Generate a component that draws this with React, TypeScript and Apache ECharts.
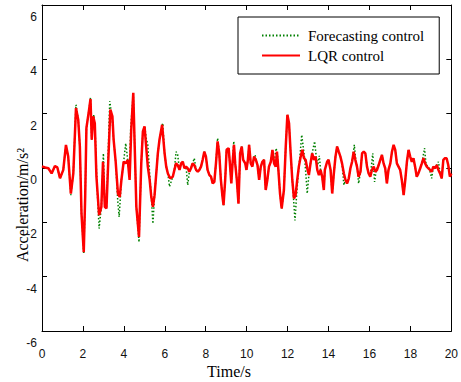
import React, { useEffect, useRef } from "react";
import * as echarts from "echarts";

// LQR control (red solid) — time (s) and acceleration (m/s^2)
const lqrTime = [
  0, 0.15, 0.31, 0.47, 0.63, 0.75, 0.88, 1.04, 1.17, 1.28, 1.41, 1.53, 1.66, 1.77, 1.85, 1.93, 2.04, 2.11, 2.17, 2.3,
  2.37, 2.43, 2.5, 2.58, 2.66, 2.79, 2.9, 2.98, 3.07, 3.15, 3.23, 3.34, 3.44, 3.5, 3.6, 3.71, 3.8, 3.88, 3.99, 4.09,
  4.19, 4.28, 4.36, 4.46, 4.53, 4.61, 4.74, 4.85, 4.93, 5.01, 5.09, 5.17, 5.26, 5.34, 5.42, 5.5, 5.66, 5.74, 5.87, 5.99,
  6.07, 6.15, 6.26, 6.39, 6.47, 6.55, 6.63, 6.72, 6.8, 6.88, 6.96, 7.04, 7.12, 7.2, 7.28, 7.36, 7.44, 7.53, 7.61, 7.69,
  7.77, 7.85, 7.93, 8.01, 8.09, 8.18, 8.26, 8.34, 8.42, 8.5, 8.58, 8.66, 8.74, 8.82, 8.87, 8.95, 9.02, 9.12, 9.18, 9.25,
  9.31, 9.38, 9.44, 9.52, 9.6, 9.68, 9.76, 9.83, 9.93, 9.99, 10.06, 10.12, 10.2, 10.28, 10.36, 10.45, 10.53, 10.61, 10.69, 10.77,
  10.85, 10.93, 11.01, 11.09, 11.18, 11.26, 11.34, 11.42, 11.48, 11.55, 11.63, 11.71, 11.82, 11.91, 11.99, 12.07, 12.15, 12.23, 12.31, 12.39,
  12.47, 12.55, 12.64, 12.72, 12.8, 12.88, 12.96, 13.04, 13.12, 13.2, 13.29, 13.37, 13.45, 13.53, 13.61, 13.69, 13.77, 13.82, 13.93, 14.0,
  14.1, 14.18, 14.26, 14.34, 14.42, 14.5, 14.58, 14.66, 14.75, 14.83, 14.91, 14.99, 15.07, 15.15, 15.23, 15.31, 15.39, 15.47, 15.56, 15.64,
  15.72, 15.8, 15.88, 15.96, 16.04, 16.12, 16.21, 16.29, 16.37, 16.45, 16.53, 16.61, 16.69, 16.77, 16.85, 16.93, 17.02, 17.1, 17.18, 17.26,
  17.34, 17.42, 17.5, 17.58, 17.67, 17.75, 17.83, 17.91, 17.99, 18.07, 18.15, 18.23, 18.31, 18.39, 18.48, 18.56, 18.64, 18.72, 18.8, 18.88,
  18.96, 19.04, 19.12, 19.21, 19.29, 19.37, 19.45, 19.53, 19.61, 19.69, 19.77, 19.85, 19.93, 20.0,
];
const lqrAccel = [
  0.06, 0.02, -0.01, -0.2, 0.07, 0.02, -0.38, -0.07, 0.85, 0.42, -0.94, -0.2, 2.21, 1.78, 0.79, -1.68, -3.1, -1.06, 1.47, 2.15,
  2.54, 1.04, 1.9, 1.65, -0.32, -1.74, -1.43, 0.23, -1.43, -1.49, 0.11, 2.15, 1.9, 1.04, 0.23, -0.94, -1.06, -0.44, 0.23, 0.17,
  0.3, -0.44, 1.41, 2.77, 0.79, -1.43, -2.54, 0.17, 1.35, 1.53, 0.79, 0.05, -0.44, -1.06, -1.43, -1.0, 0.54, 1.04, 1.59, 0.54,
  0.05, -0.2, -0.38, -0.32, -0.07, 0.17, 0.11, -0.07, 0.17, 0.23, -0.01, 0.05, -0.01, -0.14, -0.01, 0.17, 0.11, -0.07, -0.14, -0.07,
  0.05, 0.3, 0.6, 0.42, -0.07, -0.26, -0.32, -0.57, -0.51, 0.17, 0.98, 0.54, -0.44, -1.06, -1.37, -0.44, 0.67, 0.73, 0.17, -0.57,
  0.17, 0.85, 0.17, -0.44, -1.31, 0.54, 0.79, 0.3, 0.17, -0.07, 0.3, 0.85, 0.17, 0.05, 0.42, 0.3, 0.11, -0.44, 0.05, 0.23,
  0.3, -0.81, -0.44, 0.05, 0.23, 0.67, 0.17, 0.05, 0.6, -0.07, -0.94, -1.49, -0.81, 0.79, 1.96, 1.65, 0.54, -0.44, -1.12, -1.0,
  -0.44, 0.05, 0.42, 0.67, 0.36, 0.3, -0.01, -0.26, 0.17, 0.54, 0.3, 0.42, -0.07, -0.26, -0.07, -0.32, -0.81, -0.07, 0.23, 0.3,
  -0.07, -0.94, -0.2, 0.42, 0.79, 0.6, 0.42, 0.17, -0.2, -0.44, -0.57, -0.38, -0.01, 0.23, 0.6, 0.3, 0.05, -0.32, -0.14, 0.54,
  0.6, 0.54, 0.05, -0.2, -0.32, -0.07, 0.05, -0.14, -0.07, 0.11, 0.3, 0.48, 0.17, -0.01, -0.57, -0.07, 0.17, 0.6, 0.85, 0.67,
  0.17, 0.05, -0.07, -0.44, -1.0, -0.44, 0.23, 0.67, 0.42, 0.23, 0.36, 0.05, -0.32, -0.2, -0.01, 0.17, 0.36, 0.17, 0.05, -0.01,
  -0.07, -0.14, 0.05, -0.01, 0.11, -0.07, -0.2, -0.38, 0.3, 0.36, 0.36, 0.11, -0.32, -0.2,
];

// Forecasting control (green dotted) — time (s) and acceleration (m/s^2)
const fcTime = [
  0, 0.15, 0.31, 0.47, 0.63, 0.75, 0.88, 1.04, 1.17, 1.28, 1.41, 1.53, 1.66, 1.77, 1.85, 1.93, 2.04, 2.11, 2.17, 2.3,
  2.37, 2.43, 2.53, 2.6, 2.68, 2.79, 2.9, 3.0, 3.07, 3.15, 3.22, 3.31, 3.42, 3.5, 3.6, 3.7, 3.77, 3.88, 3.99, 4.09,
  4.19, 4.27, 4.33, 4.46, 4.53, 4.61, 4.74, 4.85, 4.93, 5.02, 5.09, 5.17, 5.26, 5.34, 5.42, 5.5, 5.66, 5.74, 5.9, 5.99,
  6.07, 6.15, 6.23, 6.39, 6.47, 6.55, 6.63, 6.72, 6.8, 6.88, 6.96, 7.04, 7.12, 7.2, 7.28, 7.36, 7.44, 7.53, 7.61, 7.69,
  7.77, 7.85, 7.93, 8.01, 8.09, 8.18, 8.26, 8.34, 8.42, 8.5, 8.58, 8.66, 8.74, 8.82, 8.87, 8.95, 9.02, 9.12, 9.18, 9.25,
  9.31, 9.37, 9.44, 9.52, 9.6, 9.68, 9.76, 9.83, 9.93, 9.99, 10.06, 10.12, 10.2, 10.28, 10.36, 10.41, 10.53, 10.61, 10.69, 10.77,
  10.85, 10.93, 11.01, 11.09, 11.18, 11.26, 11.34, 11.44, 11.5, 11.55, 11.63, 11.71, 11.82, 11.91, 11.99, 12.07, 12.15, 12.23, 12.36, 12.44,
  12.52, 12.6, 12.69, 12.76, 12.84, 12.9, 12.96, 13.04, 13.12, 13.2, 13.32, 13.4, 13.47, 13.55, 13.61, 13.69, 13.77, 13.82, 13.93, 14.0,
  14.1, 14.18, 14.26, 14.34, 14.42, 14.5, 14.58, 14.66, 14.75, 14.83, 14.91, 14.99, 15.07, 15.15, 15.26, 15.33, 15.4, 15.47, 15.56, 15.64,
  15.72, 15.8, 15.88, 15.96, 16.04, 16.1, 16.16, 16.25, 16.33, 16.45, 16.53, 16.61, 16.69, 16.77, 16.85, 16.93, 17.02, 17.1, 17.18, 17.26,
  17.34, 17.42, 17.5, 17.58, 17.67, 17.75, 17.83, 17.91, 17.99, 18.07, 18.15, 18.23, 18.31, 18.39, 18.48, 18.56, 18.69, 18.76, 18.84, 18.92,
  18.98, 19.04, 19.12, 19.21, 19.29, 19.37, 19.45, 19.53, 19.61, 19.69, 19.77, 19.85, 19.93, 20.0,
];
const fcAccel = [
  0.06, 0.02, -0.01, -0.2, 0.07, 0.02, -0.38, -0.07, 0.85, 0.42, -1.0, -0.2, 2.33, 1.78, 0.79, -1.68, -3.16, -1.06, 1.47, 2.15,
  2.58, 1.04, 1.96, 1.3, -0.5, -2.23, -1.43, 0.54, -1.43, -1.49, 0.2, 2.46, 1.9, 1.04, 0.23, -1.2, -1.8, -0.44, 0.23, 0.91,
  0.3, -0.3, 1.41, 2.77, 0.79, -1.43, -2.73, 0.17, 1.35, 1.53, 1.1, 0.85, -0.2, -1.06, -2.05, -1.0, 0.54, 1.04, 1.65, 0.54,
  0.05, -0.2, -0.69, -0.32, -0.07, 0.6, 0.48, -0.07, 0.17, 0.23, -0.01, 0.05, -0.63, -0.14, -0.01, 0.17, 0.36, -0.07, -0.14, -0.07,
  0.05, 0.3, 0.6, 0.42, -0.07, -0.26, -0.32, -0.57, -0.51, 0.17, 1.1, 0.54, -0.44, -1.06, -1.37, -0.44, 0.67, 0.73, 0.17, -0.57,
  0.17, 0.98, 0.17, -0.44, -1.31, 0.54, 0.79, 0.3, 0.17, -0.07, 0.3, 0.85, 0.17, 0.05, 0.42, 0.48, 0.11, -0.44, 0.05, 0.23,
  0.3, -0.81, -0.44, 0.05, 0.23, 0.67, 0.17, 0.73, 0.5, -0.07, -0.94, -1.49, -0.81, 0.79, 1.96, 1.65, 0.54, -0.44, -1.93, -1.0,
  -0.2, 0.4, 1.22, 0.8, 0.3, -0.3, -0.94, -0.26, 0.17, 0.54, 0.98, 0.42, 0.1, 0.45, -0.07, -0.32, -0.81, -0.07, 0.23, 0.3,
  -0.07, -0.94, -0.2, 0.42, 0.79, 0.6, 0.42, 0.17, -0.63, -0.44, -0.57, -0.38, -0.01, 0.23, 0.85, 0.3, 0.05, -0.57, -0.14, 0.54,
  0.6, 0.54, 0.05, -0.2, -0.32, 0.1, 0.54, -0.51, -0.07, 0.11, 0.3, 0.48, 0.17, -0.01, -0.57, -0.07, 0.17, 0.6, 0.85, 0.67,
  0.17, 0.05, -0.07, -0.44, -1.0, -0.44, 0.23, 0.67, 0.42, 0.23, 0.36, 0.05, -0.32, -0.2, -0.01, 0.17, 0.73, 0.17, 0.05, -0.01,
  -0.2, -0.38, 0.05, -0.01, 0.11, 0.23, -0.2, -0.38, 0.3, 0.36, 0.36, 0.11, -0.32, -0.2,
];

const seriesNames = ["Forecasting control", "LQR control"];
const xLabel = "Time/s";
const yLabel = "Acceleration/m/s²";

const SERIF = '"Liberation Serif", "Times New Roman", serif';
const SANS = '"Liberation Sans", Arial, sans-serif';

export default function App() {
  const ref = useRef<HTMLDivElement>(null);
  useEffect(() => {
    if (!ref.current) return;
    const chart = echarts.init(ref.current, undefined, { renderer: "svg" });
    const axisLine = { show: true, onZero: false, lineStyle: { color: "#000", width: 1 } };
    const axisTick = { show: true, inside: true, length: 5, lineStyle: { color: "#000", width: 1 } };
    chart.setOption({
      animation: false,
      backgroundColor: "#fff",
      grid: { left: 42, right: 8, top: 5, bottom: 51, show: false },
      xAxis: [
        {
          type: "value", min: 0, max: 20, interval: 2, position: "bottom",
          axisLine, axisTick, splitLine: { show: false },
          axisLabel: { margin: 17, color: "#111", fontFamily: SANS, fontSize: 12 },
        },
        {
          type: "value", min: 0, max: 20, interval: 2, position: "top",
          axisLine, axisTick, splitLine: { show: false }, axisLabel: { show: false },
        },
      ],
      yAxis: [
        {
          type: "value", min: -6, max: 6, interval: 2, position: "left",
          axisLine, axisTick, splitLine: { show: false },
          axisLabel: {
            margin: 5, color: "#111", fontFamily: SANS, fontSize: 12,
            verticalAlign: "top", lineHeight: 12, padding: [6, 0, 0, 0],
          },
        },
        {
          type: "value", min: -6, max: 6, interval: 2, position: "right",
          axisLine, axisTick, splitLine: { show: false }, axisLabel: { show: false },
        },
      ],
      legend: {
        show: true, orient: "vertical", left: 238, top: 17,
        data: seriesNames, selectedMode: false,
        itemWidth: 38, itemHeight: 14, itemGap: 5,
        padding: [11, 15, 11, 23],
        borderColor: "#000", borderWidth: 1, backgroundColor: "#fff",
        itemStyle: { opacity: 0, borderWidth: 0 },
        textStyle: { fontFamily: SERIF, fontSize: 15, color: "#000", padding: [0, 0, 0, 3] },
      },
      series: [
        {
          name: seriesNames[0], type: "line", symbol: "none", showSymbol: false, z: 2,
          data: fcTime.map((t, i) => [t, fcAccel[i]]),
          lineStyle: { color: "#008000", width: 1.5, type: [1.5, 2] },
          itemStyle: { color: "#008000" },
        },
        {
          name: seriesNames[1], type: "line", symbol: "none", showSymbol: false, z: 3,
          data: lqrTime.map((t, i) => [t, lqrAccel[i]]),
          lineStyle: { color: "#ff0000", width: 2.5 },
          itemStyle: { color: "#ff0000" },
        },
      ],
      graphic: [
        {
          type: "text", x: 22, y: 205, rotation: Math.PI / 2,
          style: { text: yLabel, font: `16px ${SERIF}`, fill: "#000", align: "center", verticalAlign: "middle" },
        },
        {
          type: "text", x: 229, y: 371,
          style: { text: xLabel, font: `16px ${SERIF}`, fill: "#000", align: "center", verticalAlign: "middle" },
        },
      ],
    });
    return () => chart.dispose();
  }, []);
  return <div ref={ref} style={{ position: "fixed", left: 0, top: 0, width: 461, height: 382 }} />;
}
